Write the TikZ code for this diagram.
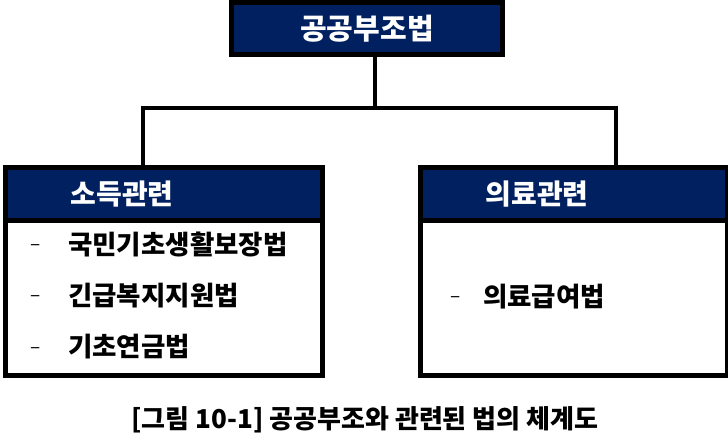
\documentclass[tikz,border=0pt]{standalone}
\usepackage{fontspec}
\setmainfont{Noto Sans CJK KR}
\usetikzlibrary{positioning}
\definecolor{lawnavy}{RGB}{0,32,96}

\begin{document}
\begin{tikzpicture}[x=1pt, y=-1pt,
  law/.style={rectangle, draw=black, fill=lawnavy, line width=5pt,
              minimum width=271pt, minimum height=52pt, text=white,
              font=\fontsize{29}{32}\selectfont\bfseries},
  head/.style={rectangle, draw=black, fill=lawnavy, line width=5pt, anchor=north west,
               minimum height=52.5pt, inner xsep=65.5pt, align=left, text=white,
               font=\fontsize{28}{31}\selectfont\bfseries},
  body/.style={rectangle, draw=black, fill=white, line width=5pt, anchor=north west,
               minimum height=156.5pt},
  item/.style={anchor=west, inner sep=0pt, font=\fontsize{26.5}{30}\selectfont\bfseries},
  itemdash/.style={anchor=west, inner sep=0pt, font=\fontsize{19}{22}\selectfont},
  link/.style={line width=4pt}
]
\useasboundingbox (0,0) rectangle (728,447);

% top box
\node[law] (law) at (367,28.5) {공공부조법};

% two groups
\node[body, minimum width=317pt] (incbody) at (2.5,216) {};
\node[head, text width=186pt] (inchead) at (2.5,165) {소득관련};
\node[body, minimum width=307pt] (medbody) at (417.5,216) {};
\node[head, text width=176pt] (medhead) at (417.5,165) {의료관련};

\foreach \txt [count=\i] in {국민기초생활보장법, 긴급복지지원법, 기초연금법} {
  \node[itemdash] (incdash\i) at (30,196+51.5*\i) {–};
  \node[item] (inc\i) at (68,192.5+51.5*\i) {\txt};
}
\node[itemdash] (meddash) at (450,300) {–};
\node[item] (med1) at (483,297) {의료급여법};

% connectors
\coordinate (j)  at (375,108);
\coordinate (jl) at (143,108);
\coordinate (jr) at (616,108);
\draw[link] (law.south -| j) -- (j);
\draw[link] (jl |- inchead.north) -- (jl) -- (jr) -- (jr |- medhead.north);

% caption
\node[font=\fontsize{26}{29}\selectfont\bfseries] (caption) at (365,420)
  {[그림 10-1] 공공부조와 관련된 법의 체계도};
\end{tikzpicture}
\end{document}
